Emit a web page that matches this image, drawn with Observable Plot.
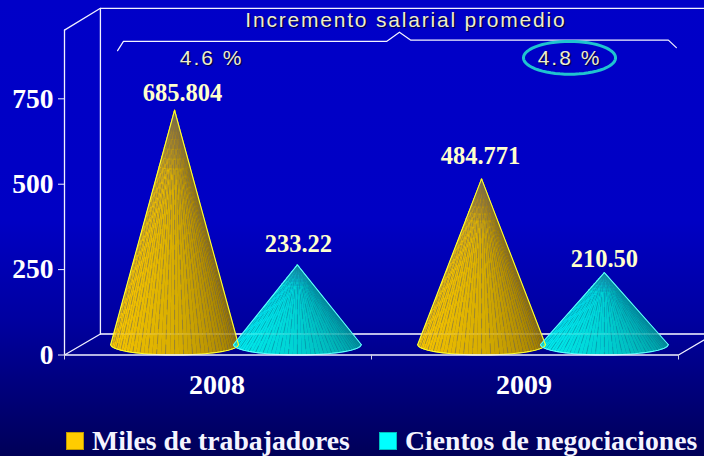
<!DOCTYPE html>
<html lang="es">
<head>
<meta charset="utf-8">
<script src="https://cdn.jsdelivr.net/npm/d3@7"></script>
<script src="https://cdn.jsdelivr.net/npm/@observablehq/plot@0.6"></script>
<style>
html,body{margin:0;padding:0;width:704px;height:456px;overflow:hidden;
  background:linear-gradient(180deg,#0000c8 0,#0000c4 220px,#0000a0 320px,#000080 380px,#000058 456px);}
#chart svg{display:block;background:transparent;}
.sub text{text-shadow:1px 1px 1px #000030;letter-spacing:1.8px;}
.sub2 text{text-shadow:1px 1px 1px #000030;letter-spacing:2px;}
#legend{display:flex;height:36px;padding-top:3px;font:bold 27.7px "Liberation Serif",serif;color:#f4f4ff;align-items:center;}
#legend .sw{display:inline-block;width:16px;height:16px;margin-right:8px;border:1px solid #00000040;box-sizing:content-box;}
</style>
</head>
<body>
<div id="chart"></div>
<div id="legend"></div>
<script>
const years = ["2008", "2009"];
const seriesNames = ["Miles de trabajadores", "Cientos de negociaciones"];
const trabajadores = [685.804, 484.771];
const negociaciones = [233.22, 210.5];
const labelsTrabajadores = ["685.804", "484.771"];
const labelsNegociaciones = ["233.22", "210.50"];
const yTicks = [0, 250, 500, 750];
const titleText = "Incremento salarial promedio";
const increments = ["4.6 %", "4.8 %"];

const depthX = 0.117, depthY = 61.5;
const radiusX = 0.208, radiusY = 30.7;

const palettes = [
  {left:"#ffcc00", mid:"#d8ae00", right:"#8c6e04", apex:"#94742c", rib:"#6f6a58", edge:"#ffff30"},
  {left:"#00f4f4", mid:"#00d2d2", right:"#008e94", apex:"#1c94b4", rib:"#0a8496", edge:"#60ffff"}
];
const cones = [];
years.forEach((yr, i) => {
  cones.push({id:yr+"a", x:i+0.3+depthX/2, v:trabajadores[i], p:palettes[0], label:labelsTrabajadores[i]});
  cones.push({id:yr+"b", x:i+0.7+depthX/2, v:negociaciones[i], p:palettes[1], label:labelsNegociaciones[i]});
});

const N = 44, bands = [0, .03, .06, .09, .12, .16, .2, .24, 1];
const facets = [], ribs = [[], [], []], outline = [];
cones.forEach(c => {
  const apex = [c.x, c.v + depthY/2];
  const base = a => [c.x + radiusX*Math.cos(a), depthY/2 - radiusY*Math.sin(a)];
  const shade = d3.piecewise(d3.interpolateRgb, [c.p.left, c.p.mid, c.p.right]);
  for (let j = 0; j < N; j++) {
    const a0 = Math.PI*(1 - j/N), a1 = Math.PI*(1 - (j+1)/N);
    const p0 = base(a0), p1 = base(a1);
    const col = shade((j+.5)/N);
    for (let b = 0; b < bands.length-1; b++) {
      const t0 = bands[b], t1 = bands[b+1];
      const at = (p,t) => [apex[0]+(p[0]-apex[0])*t, apex[1]+(p[1]-apex[1])*t];
      const mix = d3.interpolateRgb(c.p.apex, col)(Math.min(1, t0/.24));
      [at(p0,t0), at(p1,t0), at(p1,t1), at(p0,t1)]
        .forEach(q => facets.push({k:c.id+"-"+j+"-"+b, x:q[0], y:q[1], c:mix}));
    }
    if (j > 0 && j % 2 === 0) {
      const g = ribs[(j/2) % 3];
      g.push({k:c.id+j, x:apex[0], y:apex[1], c:c.p.rib});
      g.push({k:c.id+j, x:p0[0], y:p0[1], c:c.p.rib});
    }
  }
  outline.push({k:c.id, x:base(0)[0], y:base(0)[1], c:c.p.edge});
  outline.push({k:c.id, x:apex[0], y:apex[1], c:c.p.edge});
  outline.push({k:c.id, x:base(Math.PI)[0], y:base(Math.PI)[1], c:c.p.edge});
  for (let j = 0; j <= N; j++) {
    const q = base(Math.PI*(1 - j/N));
    outline.push({k:c.id+"b", x:q[0], y:q[1], c:c.p.edge});
  }
});

const frame = [
  [[0,951],[0,0],[depthX,depthY],[2.2,depthY]],
  [[0,951],[depthX,1015],[2.2,1015]],
  [[depthX,1015],[depthX,depthY]],
  [[2,0],[2+depthX,depthY]]
].flatMap((pts,k) => pts.map(p => ({k, x:p[0], y:p[1]})));

const bracket = [[.173,891],[.192,918],[1.049,918],[1.091,945],[1.127,922],[1.967,922],[1.993,900]]
  .map(p => ({x:p[0], y:p[1]}));
const ring = d3.range(0, 61).map(i => ({
  x: 1.645 + .15*Math.cos(i/60*2*Math.PI),
  y: 870 + 48*Math.sin(i/60*2*Math.PI)
}));

const coneLabel = (c, dx, dy) => Plot.text([c], {x:"x", y:d=>d.v+depthY/2, text:"label", dx, dy,
  fill:"#ffffcc", fontSize:24.5, fontWeight:"bold", fontFamily:"Liberation Serif"});
const ribMark = (g, offset) => Plot.line(g, {x:"x", y:"y", z:"k", stroke:"c", strokeWidth:.8, strokeOpacity:.6,
  strokeDasharray:"9,6", strokeDashoffset:offset});

const plot = Plot.plot({
  width:704, height:420, marginLeft:64, marginRight:26, marginTop:30, marginBottom:65.5,
  style:{background:"transparent", overflow:"visible"},
  x:{domain:[0,2], axis:null},
  y:{domain:[0,950], axis:null},
  color:{type:"identity"},
  marks:[
    Plot.line(frame, {x:"x", y:"y", z:"k", stroke:"#f0f0ff", strokeWidth:1.3, curve:"linear"}),
    Plot.line(facets, {x:"x", y:"y", z:"k", fill:"c", stroke:"c", strokeWidth:.6}),
    ribMark(ribs[0], 0), ribMark(ribs[1], 5), ribMark(ribs[2], 10),
    Plot.line(outline, {x:"x", y:"y", z:"k", stroke:"c", strokeWidth:1.1}),
    Plot.ruleY([depthY], {x1:0.117, x2:2.2, stroke:"#ffffff", strokeOpacity:.25}),
    Plot.ruleY([0], {x1:0, x2:2, stroke:"#f0f0ff", strokeWidth:1.3}),
    Plot.axisY({ticks:yTicks, tickSize:6, tickPadding:5, tickFormat:d=>String(d), anchor:"left",
      fill:"#fff", stroke:"#f0f0ff", fontSize:27.5, fontWeight:"bold", fontFamily:"Liberation Serif", label:null}),
    Plot.axisX({ticks:[0,1,2], tickSize:5, stroke:"#d0d0e0", tickFormat:()=>"", label:null}),
    Plot.text(years, {x:(d,i)=>i+.5, y:()=>0, text:d=>d, dy:30, dx:-1, fill:"#fff", fontSize:28,
      fontWeight:"bold", fontFamily:"Liberation Serif"}),
    coneLabel(cones[0], 8, -17),
    coneLabel(cones[1], 1, -21),
    coneLabel(cones[2], -1, -23),
    coneLabel(cones[3], 0, -13),
    Plot.line(bracket, {x:"x", y:"y", stroke:"#f4f4ff", strokeWidth:1.2}),
    Plot.line(ring, {x:"x", y:"y", stroke:"#1fc4cf", strokeWidth:3, curve:"linear"}),
    Plot.text([titleText], {x:()=>1.112, y:()=>979, text:d=>d, fill:"#eeeecc", fontSize:21,
      fontFamily:"Liberation Sans", className:"sub"}),
    Plot.text(increments, {x:(d,i)=>i?1.645:.479, y:()=>870, text:d=>d, fill:"#eeeecc", fontSize:21,
      fontFamily:"Liberation Sans", className:"sub2"})
  ]
});
document.getElementById("chart").appendChild(plot);

const legend = document.getElementById("legend");
seriesNames.forEach((name, i) => {
  const item = document.createElement("div");
  item.style.cssText = "display:flex;align-items:center;position:absolute;left:" + (i ? 379 : 66) + "px;white-space:nowrap;";
  const sw = document.createElement("span");
  sw.className = "sw";
  sw.style.background = ["#ffcc00", "#00ffff"][i];
  item.appendChild(sw);
  item.appendChild(document.createTextNode(name));
  legend.appendChild(item);
});
</script>
</body>
</html>
